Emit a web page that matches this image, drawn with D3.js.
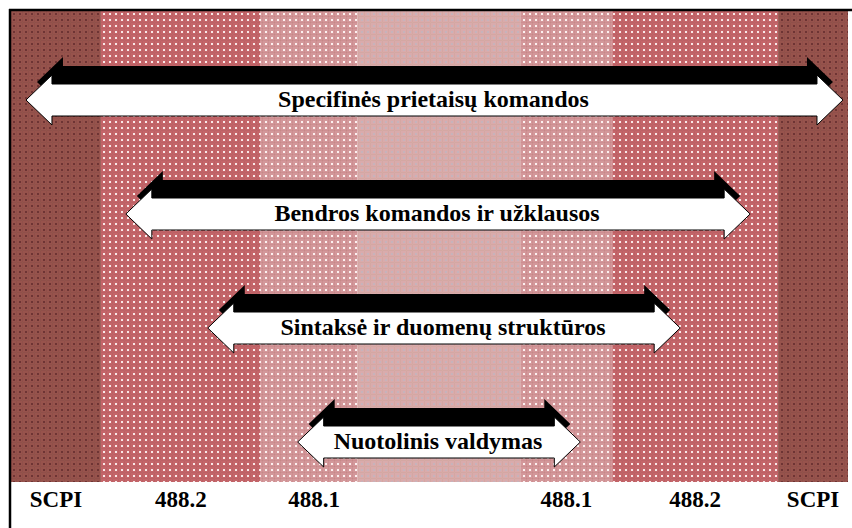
<!DOCTYPE html>
<html>
  <head>
    <meta charset="UTF-8">
    <title>SCPI komandų sluoksniai</title>
    <script src="https://d3js.org/d3.v7.min.js"></script>
    <style>
      body { margin: 0; background: #fff; }
    </style>
  </head>
  <body>
    <div id="chart-container"></div>
    <script>
      // Bands along the bottom (left to right), edges in % of plot width
      const bandLabels = ["SCPI", "488.2", "488.1", "", "488.1", "488.2", "SCPI"];
      const bandEdges = [0, 10.74, 29.83, 41.41, 60.86, 71.84, 91.65, 100];
      const bandKind = ["dark", "pink", "light", "center", "light", "pink", "dark"];

      // Layers (arrows), top to bottom, with their start / end in %
      const layerNames = [
        "Specifinės prietaisų komandos",
        "Bendros komandos ir užklausos",
        "Sintaksė ir duomenų struktūros",
        "Nuotolinis valdymas"
      ];
      const layerStart = [1.79, 13.72, 23.51, 34.25];
      const layerEnd = [99.40, 88.31, 79.95, 68.02];

      const W = 852, H = 528;
      const margin = {top: 11, left: 11, right: 4, bottom: 46};
      const plotW = W - margin.left - margin.right;
      const plotH = H - margin.top - margin.bottom;
      const serif = '"Liberation Serif"';

      const svg = d3.select("#chart-container")
        .append("svg")
        .attr("width", W)
        .attr("height", H);

      // textures for the bands
      const defs = svg.append("defs");
      const textures = {
        dark:   {base: "#97534c", a: "#6e3434", b: "#a6774f", c: "#8a4c48"},
        pink:   {base: "#c4666a", a: "#f9e8e8", b: "#d89092", c: "#b55a5e"},
        light:  {base: "#d3989a", a: "#fdf0f0", b: "#b4a476", c: "#c98489"},
        center: {base: "#d9abac", a: "#c6b3bb", b: "#edc0c0", c: "#cfa39a"}
      };
      Object.entries(textures).forEach(([k, t]) => {
        const p = defs.append("pattern")
          .attr("id", "tex-" + k)
          .attr("patternUnits", "userSpaceOnUse")
          .attr("width", 6)
          .attr("height", 6);
        p.append("rect").attr("width", 6).attr("height", 6).attr("fill", t.base);
        p.append("rect").attr("x", 1).attr("y", 1).attr("width", 2).attr("height", 2).attr("fill", t.a);
        p.append("rect").attr("x", 4).attr("y", 4).attr("width", 1).attr("height", 1).attr("fill", t.b);
        p.append("rect").attr("x", 4).attr("y", 0).attr("width", 1).attr("height", 6).attr("fill", t.c).attr("opacity", 0.5);
        p.append("rect").attr("x", 0).attr("y", 4).attr("width", 6).attr("height", 1).attr("fill", t.c).attr("opacity", 0.5);
      });

      const x = d3.scaleLinear().domain([0, 100]).range([margin.left, margin.left + plotW]);
      const y = d3.scalePoint().domain(layerNames).range([100, 442]);

      // bands
      svg.append("g")
        .selectAll("rect")
        .data(bandLabels)
        .join("rect")
        .attr("x", (d, i) => x(bandEdges[i]))
        .attr("y", margin.top)
        .attr("width", (d, i) => x(bandEdges[i + 1]) - x(bandEdges[i]))
        .attr("height", plotH)
        .attr("fill", (d, i) => `url(#tex-${bandKind[i]})`);

      // frame lines (top and left only)
      svg.append("line")
        .attr("x1", 9).attr("x2", W).attr("y1", 10).attr("y2", 10)
        .attr("stroke", "#000").attr("stroke-width", 2.5);
      svg.append("line")
        .attr("x1", 10).attr("x2", 10).attr("y1", 9).attr("y2", H)
        .attr("stroke", "#000").attr("stroke-width", 2.5);

      // double arrow path
      const head = 26, barb = 25, body = 16;
      function arrowPath(x0, x1, cy) {
        return `M${x0},${cy} L${x0 + head},${cy - barb} L${x0 + head},${cy - body}
                L${x1 - head},${cy - body} L${x1 - head},${cy - barb} L${x1},${cy}
                L${x1 - head},${cy + barb} L${x1 - head},${cy + body}
                L${x0 + head},${cy + body} L${x0 + head},${cy + barb} Z`;
      }

      const arrows = svg.append("g")
        .selectAll("g")
        .data(layerNames)
        .join("g");

      // black shadow, shifted up and pulled in
      arrows.append("path")
        .attr("d", (d, i) => arrowPath(x(layerStart[i]) + 11, x(layerEnd[i]) - 10, y(d) - 18))
        .attr("fill", "#000");

      arrows.append("path")
        .attr("d", (d, i) => arrowPath(x(layerStart[i]), x(layerEnd[i]), y(d)))
        .attr("fill", "#fff")
        .attr("stroke", "#000")
        .attr("stroke-width", 1);

      arrows.append("text")
        .attr("x", (d, i) => (x(layerStart[i]) + x(layerEnd[i])) / 2 - 1)
        .attr("y", d => y(d) + 7)
        .attr("text-anchor", "middle")
        .style("font-family", serif)
        .style("font-weight", "bold")
        .style("font-size", "24px")
        .text(d => d);

      // band labels below
      svg.append("g")
        .selectAll("text")
        .data(bandLabels)
        .join("text")
        .attr("x", (d, i) => (x(bandEdges[i]) + x(bandEdges[i + 1])) / 2 + (i === 2 ? 5 : 0))
        .attr("y", 507)
        .attr("text-anchor", "middle")
        .style("font-family", serif)
        .style("font-weight", "bold")
        .style("font-size", "23px")
        .text(d => d);
    </script>
  </body>
</html>
